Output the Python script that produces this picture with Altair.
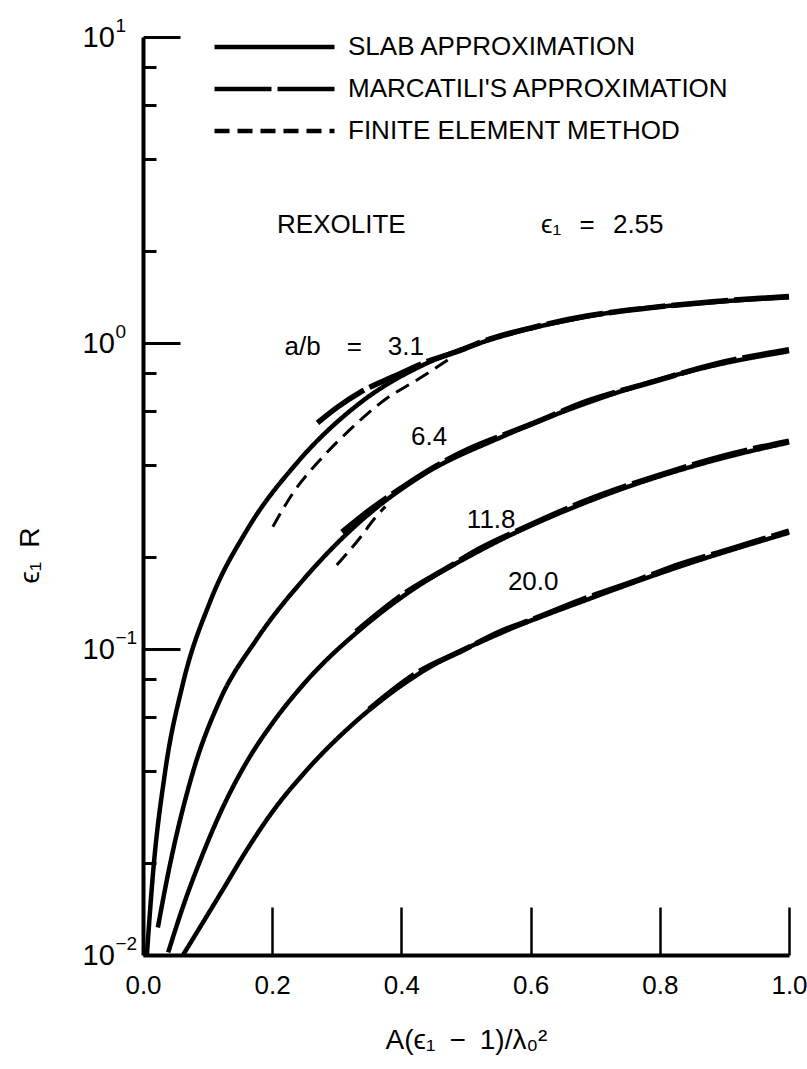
import altair as alt
import pandas as pd

FONT = "Liberation Sans"

methods = ["SLAB APPROXIMATION", "MARCATILI'S APPROXIMATION", "FINITE ELEMENT METHOD"]

# ---- slab approximation (solid) ----
slab_31_x = [0.006, 0.0155, 0.034, 0.062, 0.104, 0.161, 0.238, 0.336, 0.440, 0.522, 0.687, 0.882, 1.0]
slab_31_y = [0.0100, 0.0185, 0.0394, 0.0774, 0.143, 0.245, 0.405, 0.637, 0.860, 1.0, 1.22, 1.36, 1.41]

slab_64_x = [0.023, 0.039, 0.077, 0.119, 0.176, 0.254, 0.330, 0.429, 0.557, 0.69, 0.89, 1.0]
slab_64_y = [0.0123, 0.0185, 0.0394, 0.068, 0.1076, 0.174, 0.254, 0.366, 0.495, 0.640, 0.850, 0.940]

slab_118_x = [0.039, 0.062, 0.093, 0.124, 0.161, 0.201, 0.254, 0.341, 0.409, 0.522, 0.692, 0.898, 1.0]
slab_118_y = [0.0102, 0.0144, 0.0215, 0.0305, 0.0429, 0.0575, 0.079, 0.118, 0.152, 0.210, 0.305, 0.421, 0.473]

slab_200_x = [0.062, 0.124, 0.161, 0.201, 0.254, 0.330, 0.424, 0.557, 0.676, 0.831, 1.0]
slab_200_y = [0.0100, 0.0164, 0.0221, 0.0295, 0.0403, 0.0581, 0.0822, 0.1135, 0.142, 0.186, 0.240]

# ---- Marcatili's approximation (long dash) ----
marc_31_x = [0.27, 0.30, 0.336, 0.387, 0.44, 0.491, 0.522, 0.604, 0.687, 0.78, 0.882, 1.0]
marc_31_y = [0.548, 0.615, 0.690, 0.775, 0.870, 0.945, 1.005, 1.125, 1.225, 1.30, 1.365, 1.42]

marc_64_x = [0.308, 0.354, 0.40, 0.45, 0.506, 0.557, 0.60, 0.69, 0.79, 0.89, 1.0]
marc_64_y = [0.241, 0.288, 0.336, 0.392, 0.452, 0.500, 0.542, 0.648, 0.748, 0.858, 0.95]

marc_118_x = [0.33, 0.409, 0.471, 0.522, 0.588, 0.692, 0.796, 0.898, 1.0]
marc_118_y = [0.114, 0.154, 0.184, 0.213, 0.248, 0.309, 0.368, 0.427, 0.478]

marc_200_x = [0.35, 0.424, 0.495, 0.557, 0.599, 0.676, 0.769, 0.831, 0.909, 1.0]
marc_200_y = [0.0635, 0.0835, 0.099, 0.115, 0.124, 0.144, 0.169, 0.189, 0.212, 0.243]

# ---- finite element method (short dash) ----
fem_31_x = [0.201, 0.232, 0.274, 0.320, 0.378, 0.424, 0.460, 0.48]
fem_31_y = [0.251, 0.323, 0.415, 0.520, 0.661, 0.757, 0.847, 0.905]

fem_64_x = [0.300, 0.336, 0.359, 0.375]
fem_64_y = [0.188, 0.231, 0.268, 0.292]

# ---- annotations ----
ann_text = ["REXOLITE", "\u03f5\u2081\u2002\u2009=\u2002\u20092.55", "a/b\u2003=\u20033.1", "6.4", "11.8", "20.0"]
ann_x = [0.307, 0.711, 0.327, 0.443, 0.539, 0.604]
ann_y = [2.43, 2.43, 0.97, 0.493, 0.264, 0.166]

x_ticks = [0.2, 0.4, 0.6, 0.8, 1.0]
x_labels = [0.0, 0.2, 0.4, 0.6, 0.8, 1.0]
y_major = [0.01, 0.1, 1, 10]
y_minor = [0.02, 0.04, 0.06, 0.08, 0.2, 0.4, 0.6, 0.8, 2, 4, 6, 8]


def build(method, series):
    rows = []
    for ratio, xs, ys in series:
        for i, (xv, yv) in enumerate(zip(xs, ys)):
            rows.append({"method": method, "key": method + ratio, "x": xv, "y": yv, "i": i})
    return pd.DataFrame(rows)


slab_df = build(methods[0], [("3.1", slab_31_x, slab_31_y), ("6.4", slab_64_x, slab_64_y),
                             ("11.8", slab_118_x, slab_118_y), ("20.0", slab_200_x, slab_200_y)])
marc_df = build(methods[1], [("3.1", marc_31_x, marc_31_y), ("6.4", marc_64_x, marc_64_y),
                             ("11.8", marc_118_x, marc_118_y), ("20.0", marc_200_x, marc_200_y)])
fem_df = build(methods[2], [("3.1", fem_31_x, fem_31_y), ("6.4", fem_64_x, fem_64_y)])
ann_df = pd.DataFrame({"t": ann_text, "x": ann_x, "y": ann_y})

xscale = alt.Scale(domain=[0, 1], nice=False, zero=False)
yscale = alt.Scale(type="log", domain=[0.01, 10], nice=False)

dash = alt.StrokeDash(
    "method:N",
    scale=alt.Scale(domain=methods, range=[[1, 0], [57, 6], [15, 8]]),
    legend=alt.Legend(
        orient="none", legendX=69, legendY=-1, title=None, padding=0,
        symbolType="stroke", symbolSize=14400, symbolStrokeWidth=4.5,
        symbolStrokeColor="black", clipHeight=22, rowPadding=16,
        labelFont=FONT, labelFontSize=26, labelOffset=11, labelLimit=700,
        labelColor="black",
    ),
)

main_x_axis = alt.Axis(
    orient="bottom", values=x_labels, format=".1f", ticks=False, tickSize=0,
    domainWidth=4, domainColor="black", labelFont=FONT, labelFontSize=26,
    labelColor="black", labelPadding=17, labelFlush=False, grid=False,
    title="A(\u03f5\u2081\u2002\u2212\u20021)/\u03bb\u2080\u00b2", titleFont=FONT, titleFontSize=28,
    titleFontWeight="normal", titleColor="black", titleBaseline="middle", titleY=85,
)
main_y_axis = alt.Axis(
    orient="left", values=y_major, ticks=False, tickSize=0,
    labelExpr="'10'",
    domainWidth=4, domainColor="black", labelFont=FONT, labelFontSize=29,
    labelColor="black", labelAlign="left", labelPadding=61, labelFlush=False, grid=False,
    title="\u03f5\u2081\u2002R", titleFont=FONT, titleFontSize=28, titleFontWeight="normal",
    titleColor="black", titleAngle=270, titleX=-113, titleY=518,
    titleAlign="center", titleBaseline="middle",
)

slab = alt.Chart(slab_df).mark_line(color="black", interpolate="monotone", strokeWidth=4.5).encode(
    x=alt.X("x:Q", scale=xscale, axis=main_x_axis),
    y=alt.Y("y:Q", scale=yscale, axis=main_y_axis),
    detail="key:N", order="i:Q", strokeDash=dash,
)
marc = alt.Chart(marc_df).mark_line(color="black", interpolate="monotone", strokeWidth=5.5).encode(
    x=alt.X("x:Q", scale=xscale, axis=None),
    y=alt.Y("y:Q", scale=yscale, axis=None),
    detail="key:N", order="i:Q", strokeDash=dash,
)
fem = alt.Chart(fem_df).mark_line(color="black", interpolate="monotone", strokeWidth=3).encode(
    x=alt.X("x:Q", scale=xscale, axis=None),
    y=alt.Y("y:Q", scale=yscale, axis=None),
    detail="key:N", order="i:Q", strokeDash=dash,
)

tick_layer = alt.Chart(slab_df).mark_point(opacity=0).encode(
    x=alt.X("x:Q", scale=xscale, axis=alt.Axis(
        orient="top", offset=-918, values=x_ticks, tickSize=48, tickWidth=2.5,
        tickColor="black", labels=False, domain=False, grid=False, title=None)),
    y=alt.Y("y:Q", scale=yscale, axis=alt.Axis(
        orient="right", offset=-646, values=y_major + y_minor,
        tickSize={"condition": {"test": "datum.value == 0.01 || datum.value == 0.1 || datum.value == 1 || datum.value == 10", "value": 37}, "value": 13},
        tickWidth=3, tickColor="black", labels=False, domain=False, grid=False, title=None)),
)

exp_layer = alt.Chart(slab_df).mark_point(opacity=0).encode(
    x=alt.X("x:Q", scale=xscale, axis=None),
    y=alt.Y("y:Q", scale=yscale, axis=alt.Axis(
        orient="left", values=y_major, ticks=False, tickSize=0, domain=False, grid=False,
        labelExpr="datum.value >= 10 ? '1' : datum.value >= 1 ? '0' : datum.value >= 0.1 ? '\u22121' : '\u22122'",
        labelAlign="left", labelPadding=28, labelOffset=-12, labelFont=FONT, labelFontSize=19,
        labelColor="black", labelFlush=False, title=None)),
)

texts = alt.Chart(ann_df).mark_text(font=FONT, fontSize=26, color="black", align="center", baseline="middle").encode(
    x=alt.X("x:Q", scale=xscale, axis=None),
    y=alt.Y("y:Q", scale=yscale, axis=None),
    text="t:N",
)

chart = alt.layer(slab, marc, fem, tick_layer, exp_layer, texts).resolve_axis(
    x="independent", y="independent"
).properties(
    width=646, height=918,
    padding={"left": 143, "top": 37, "right": 18, "bottom": 114},
    autosize=alt.AutoSizeParams(type="none"),
    background="white",
).configure_view(stroke=None)

chart.save("out.html", embed_options={"renderer": "svg", "actions": False})
